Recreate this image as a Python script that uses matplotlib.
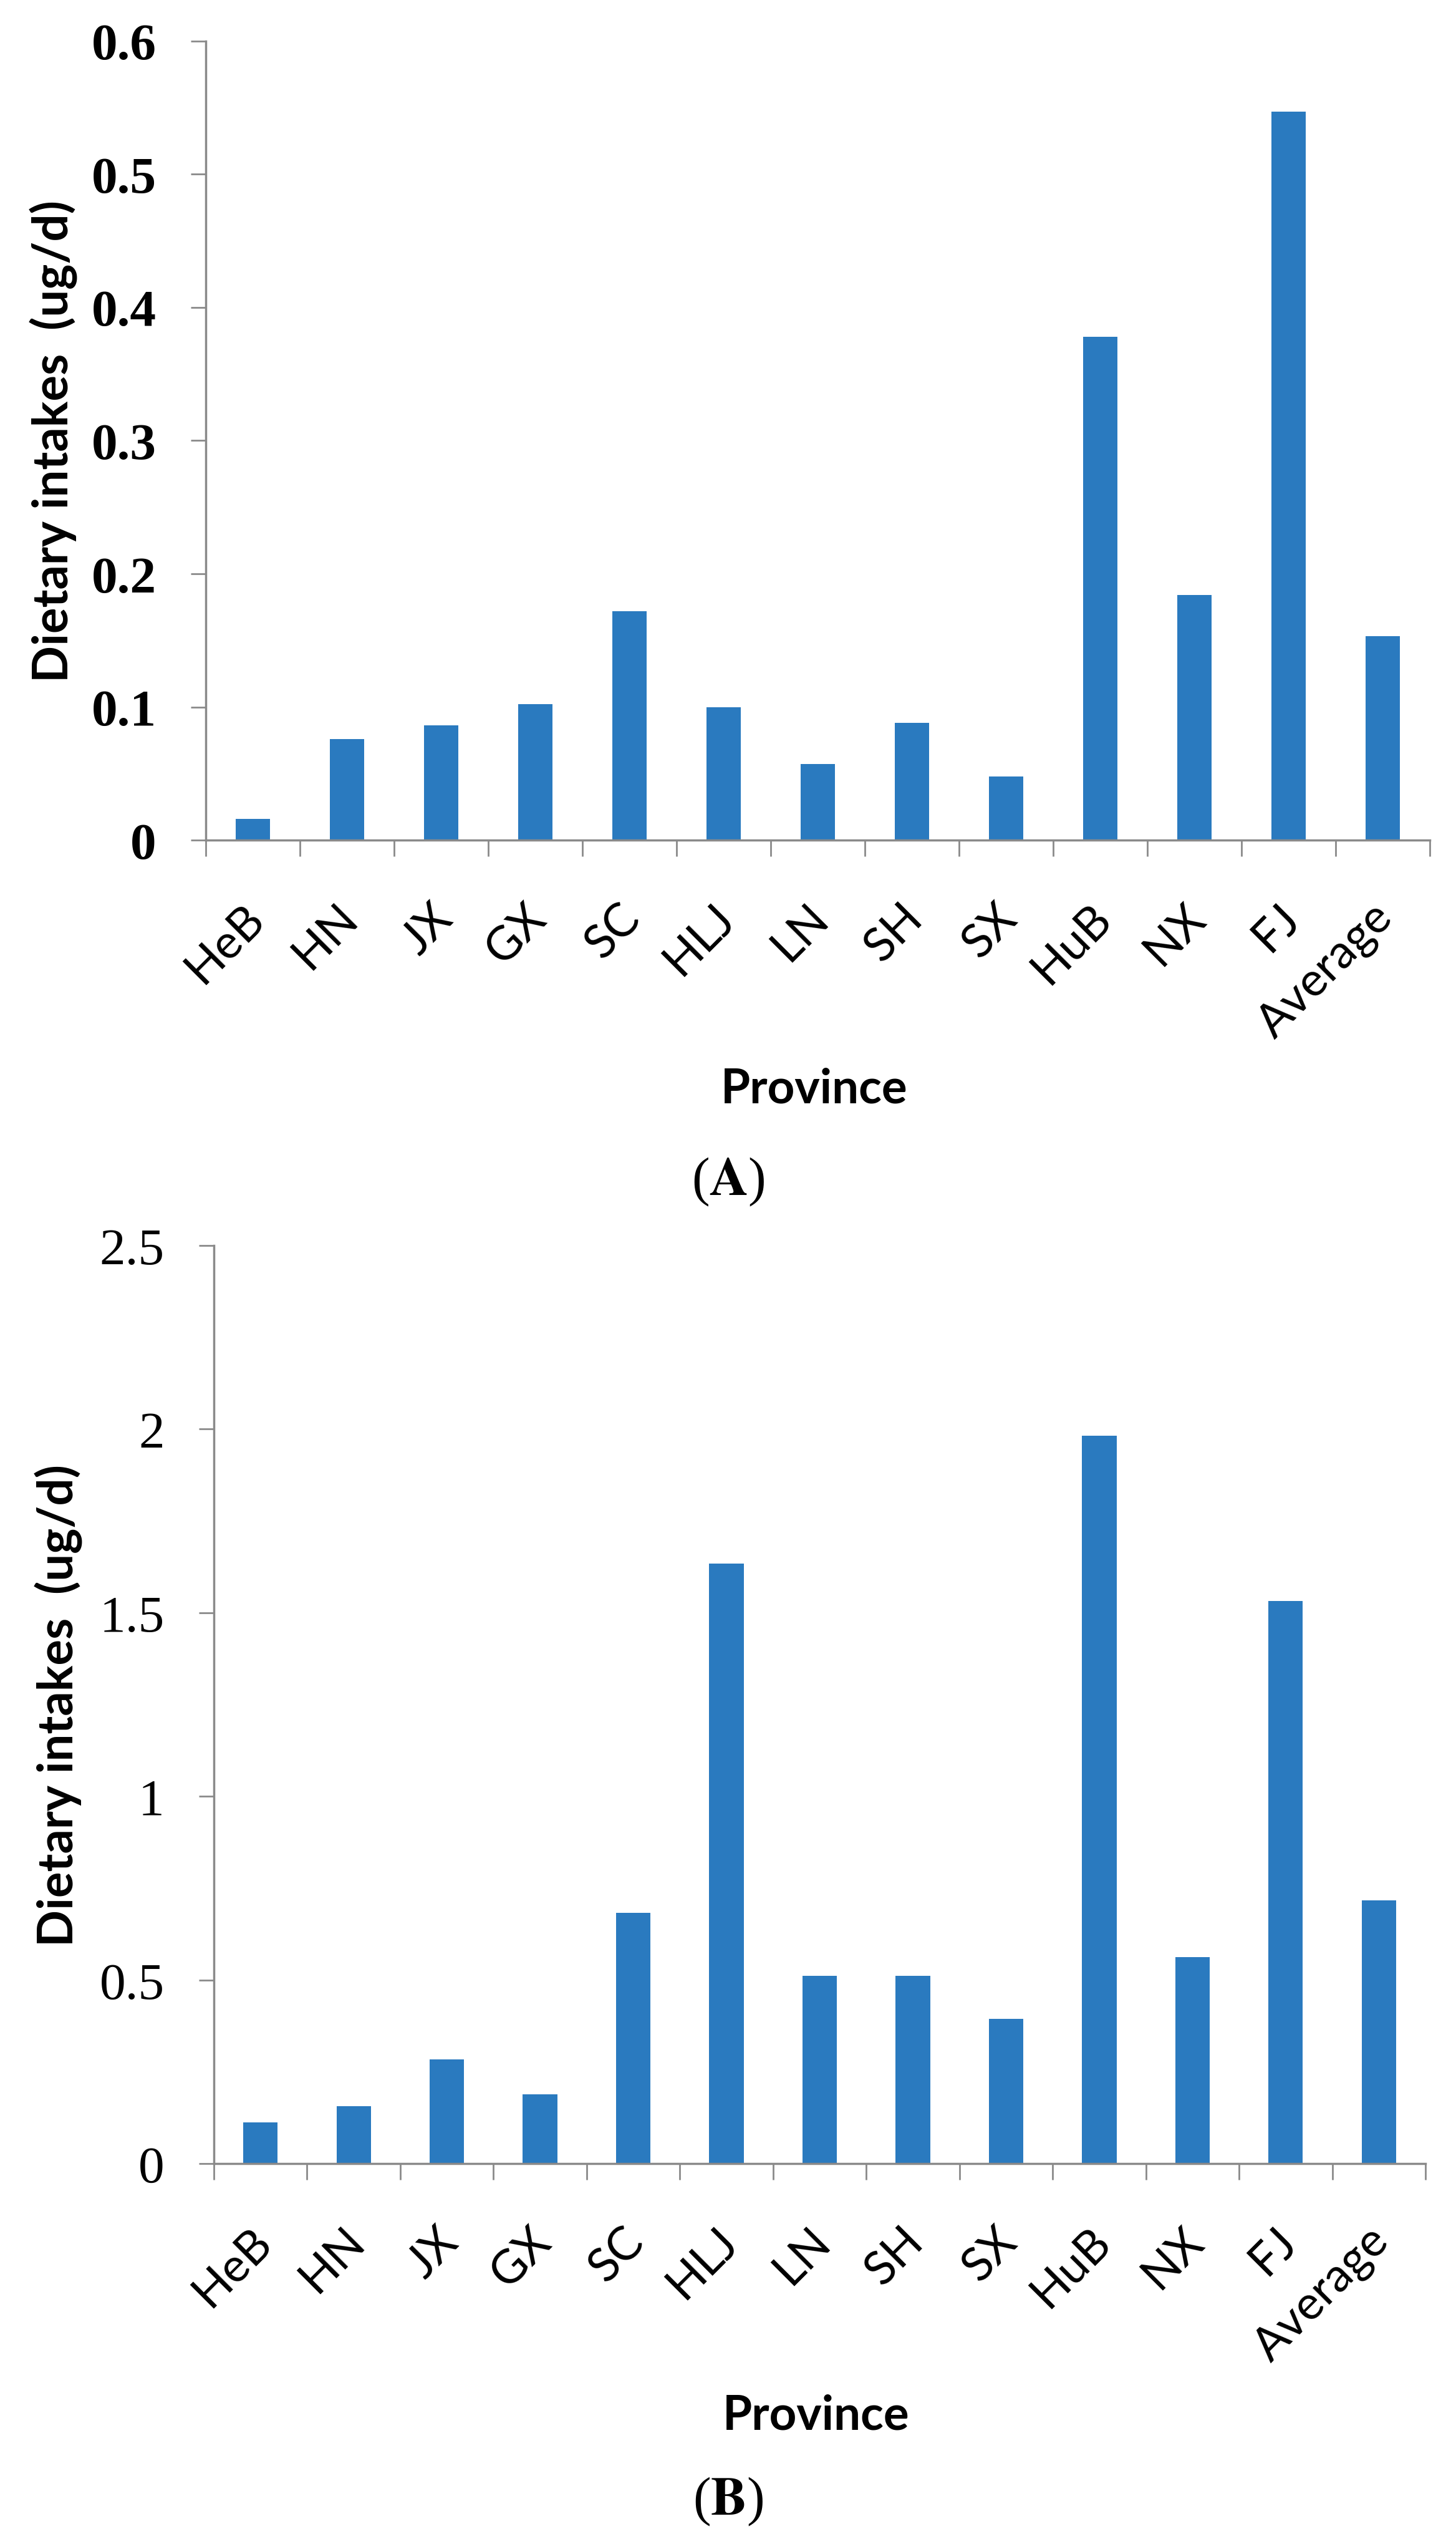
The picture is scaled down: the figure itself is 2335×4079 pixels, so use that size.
import matplotlib
matplotlib.use("Agg")
import matplotlib.pyplot as plt
import matplotlib.transforms as mtransforms
import numpy as np

PROVINCES = ["HeB", "HN", "JX", "GX", "SC", "HLJ", "LN", "SH", "SX",
             "HuB", "NX", "FJ", "Average"]
INTAKE_A = [0.016, 0.076, 0.086, 0.102, 0.172, 0.100, 0.057, 0.088, 0.048,
            0.378, 0.184, 0.547, 0.153]
INTAKE_B = [0.113, 0.156, 0.283, 0.189, 0.683, 1.633, 0.512, 0.512, 0.394,
            1.982, 0.562, 1.532, 0.716]
YTICKS_A = [0, 0.1, 0.2, 0.3, 0.4, 0.5, 0.6]
YTICK_LABELS_A = ["0", "0.1", "0.2", "0.3", "0.4", "0.5", "0.6"]
YTICKS_B = [0, 0.5, 1, 1.5, 2, 2.5]
YTICK_LABELS_B = ["0", "0.5", "1", "1.5", "2", "2.5"]

BAR_COLOR = "#2a7abf"
AXIS_COLOR = "#8a8a8a"
SANS = "Lato"
SERIF = "Liberation Serif"

plt.rcParams["mathtext.fontset"] = "stix"


def draw_panel(fig, ax, values, yticks, ylabels, tick_weight,
               ylabel_x, xlabel_y):
    n = len(PROVINCES)
    x = np.arange(n)
    ax.bar(x, values, width=0.37, color=BAR_COLOR, zorder=2)
    ax.set_xlim(-0.5, n - 0.5)
    ax.set_ylim(yticks[0], yticks[-1])

    # Excel-style ticks between categories, labels at the centres
    ax.set_xticks(np.arange(n + 1) - 0.5)
    ax.set_xticklabels([])
    ax.set_xticks(x, minor=True)
    ax.set_xticklabels(PROVINCES, minor=True, rotation=45, ha="right",
                       va="top", rotation_mode="default",
                       fontsize=54, family=SANS)
    ax.tick_params(axis="x", which="major", length=19, width=2,
                   color=AXIS_COLOR, direction="out")
    ax.tick_params(axis="x", which="minor", length=0, pad=64)
    # nudge the slanted labels a little to the right, as in Excel
    shift = mtransforms.ScaledTranslation(0.3, 0, fig.dpi_scale_trans)
    for lab in ax.get_xticklabels(minor=True):
        lab.set_transform(lab.get_transform() + shift)

    ax.set_yticks(yticks)
    ax.set_yticklabels(ylabels, family=SERIF, fontsize=60,
                       fontweight=tick_weight)
    ax.tick_params(axis="y", length=17, width=2, color=AXIS_COLOR,
                   direction="out", pad=40)

    for side in ["top", "right"]:
        ax.spines[side].set_visible(False)
    for side in ["left", "bottom"]:
        ax.spines[side].set_color(AXIS_COLOR)
        ax.spines[side].set_linewidth(2.5)

    ax.set_ylabel("Dietary intakes  (ug/d)", family=SANS, fontsize=56,
                  fontweight="bold", va="center")
    ax.yaxis.set_label_coords(ylabel_x, 0.5)
    ax.set_xlabel("Province", family=SANS, fontsize=55, fontweight="bold",
                  va="center")
    ax.xaxis.set_label_coords(0.497, xlabel_y)


fig = plt.figure(figsize=(23.35, 40.8), dpi=100)
ax_a = fig.add_axes([0.1413, 0.6696, 0.8407, 0.3140])
ax_b = fig.add_axes([0.1469, 0.1495, 0.8321, 0.3608])

draw_panel(fig, ax_a, INTAKE_A, YTICKS_A, YTICK_LABELS_A, "bold",
           -0.124, -0.311)
draw_panel(fig, ax_b, INTAKE_B, YTICKS_B, YTICK_LABELS_B, "normal",
           -0.128, -0.274)

fig.text(0.5, 1 - 1895 / 4080, r"($\mathbf{A}$)", ha="center", va="center",
         family=SERIF, fontsize=62)
fig.text(0.5, 1 - 4011 / 4080, r"($\mathbf{B}$)", ha="center", va="center",
         family=SERIF, fontsize=62)

fig.savefig("out.png", dpi=100, facecolor="white")
